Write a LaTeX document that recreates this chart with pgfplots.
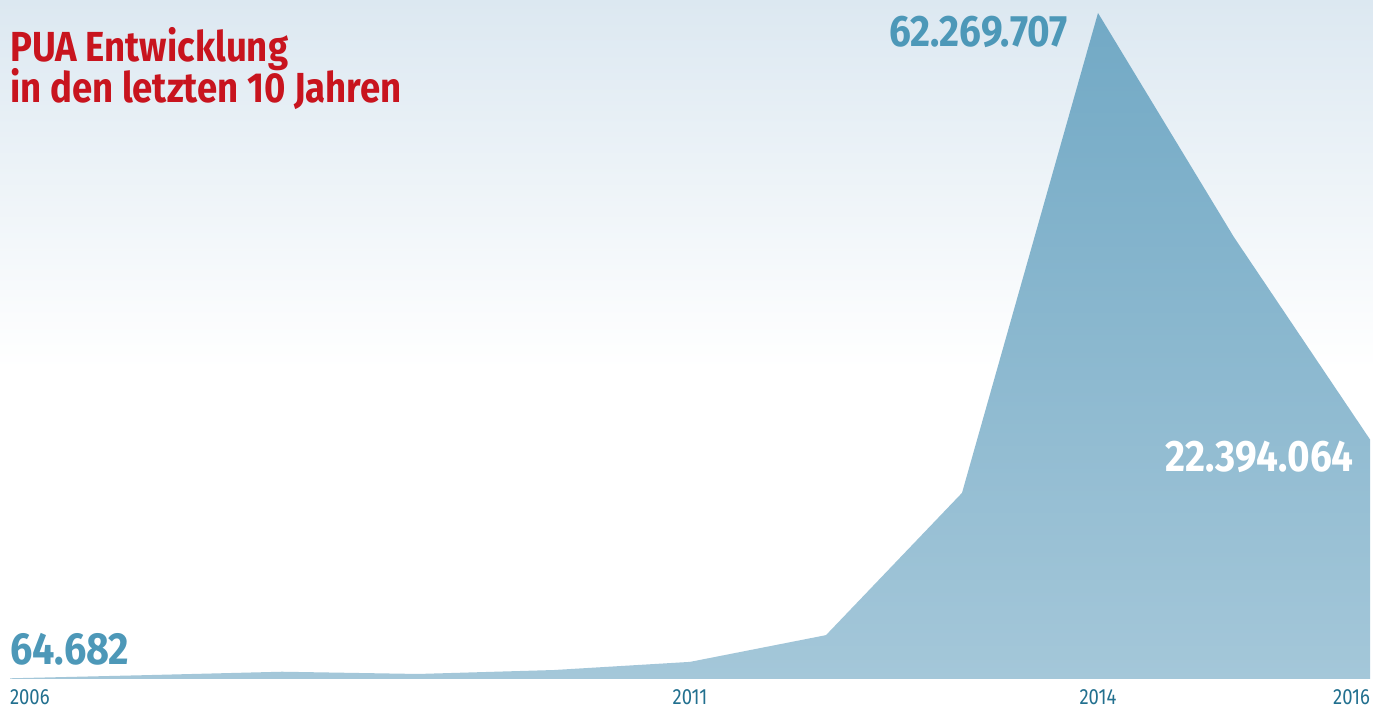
\documentclass[border=0pt]{standalone}
\usepackage{pgfplots}
\pgfplotsset{compat=1.18}
\usepackage{fontspec}
\setmainfont{Fira Sans}
\newfontfamily\titlefont[FakeStretch=0.87]{Fira Sans}
\newfontfamily\condfont[FakeStretch=0.88]{Fira Sans}
\newfontfamily\tickfont[FakeStretch=0.84]{Fira Sans}
\definecolor{bgtop}{HTML}{DCE8F1}
\definecolor{titlered}{HTML}{C8141E}
\definecolor{numblue}{HTML}{4D98B8}
\definecolor{tickcol}{HTML}{22708F}
\definecolor{areatop}{HTML}{72A9C5}
\definecolor{areabot}{HTML}{A4C7D9}
\begin{document}
\begin{tikzpicture}[x=1pt,y=1pt]
\fill[white] (0,0) rectangle (1373,709);
\shade[top color=bgtop, bottom color=white] (0,709) rectangle (1373,340);
\begin{axis}[
  at={(10pt,30pt)}, anchor=south west,
  scale only axis, width=1360pt, height=666pt,
  xmin=2006, xmax=2016, ymin=0, ymax=62.269707,
  axis line style={draw=none},
  ytick=\empty,
  xtick={2006,2011,2014,2016},
  xticklabels={\rlap{2006},2011,2014,\llap{2016}},
  major tick length=0pt,
  xticklabel style={anchor=base, yshift=-26pt, inner sep=0pt,
    font=\tickfont\fontsize{22}{22}\selectfont, text=tickcol},
  clip=false,
]
\addplot[draw=none, top color=areatop, bottom color=areabot] coordinates {
  (2006,0.064682) (2007,0.36) (2008,0.68) (2009,0.47) (2010,0.84)
  (2011,1.6) (2012,4.1) (2013,17.4) (2014,62.269707) (2015,41.3) (2016,22.394064)
} \closedcycle;
\end{axis}
\node[anchor=base west, inner sep=0pt, text=titlered, font=\titlefont\bfseries\fontsize{42}{42}\selectfont] at (10,647.3) {PUA Entwicklung};
\node[anchor=base west, inner sep=0pt, text=titlered, font=\titlefont\bfseries\fontsize{42}{42}\selectfont] at (10,606) {in den letzten 10 Jahren};
\node[anchor=base east, inner sep=0pt, text=numblue, font=\condfont\bfseries\fontsize{44}{44}\selectfont] at (1068,662.3) {62.269.707};
\node[anchor=base west, inner sep=0pt, text=numblue, font=\condfont\bfseries\fontsize{45}{45}\selectfont] at (10,44) {64.682};
\node[anchor=base east, inner sep=0pt, text=white, font=\condfont\bfseries\fontsize{44}{44}\selectfont] at (1354,237) {22.394.064};
\end{tikzpicture}
\end{document}
